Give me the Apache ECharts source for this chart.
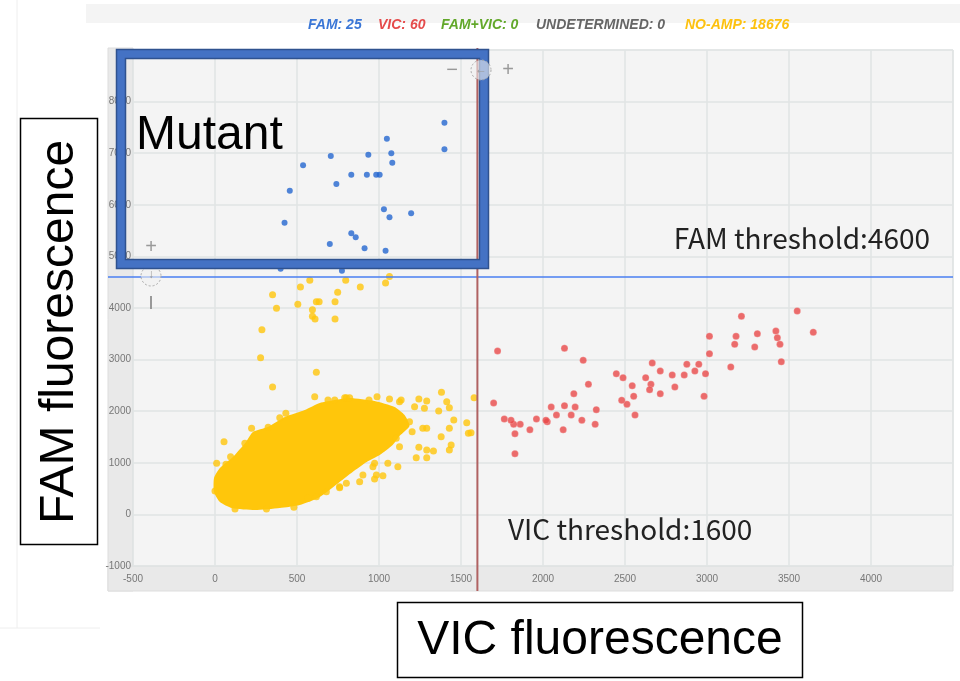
<!DOCTYPE html>
<html>
<head>
<meta charset="utf-8">
<title>FAM / VIC scatter</title>
<script src="https://cdn.jsdelivr.net/npm/echarts@6/dist/echarts.min.js"></script>
<style>
  html, body { margin: 0; padding: 0; background: #fff; }
  #main { width: 960px; height: 681px; }
</style>
</head>
<body>
<div id="main"></div>
<script>
  // thresholds
  var vicThreshold = 1600;
  var famThreshold = 4600;

  // FAM (mutant) droplets [VIC, FAM]
  var famPoints = [
    [1399, 7591], [1399, 7075], [1048, 7281], [1075, 6998], [1081, 6816],
    [935, 6971], [706, 6946], [537, 6765], [456, 6273], [831, 6583],
    [926, 6583], [983, 6583], [1004, 6583], [740, 6403], [424, 5653],
    [1030, 5913], [1064, 5758], [1196, 5835], [831, 5448], [858, 5370],
    [700, 5240], [912, 5157], [1040, 5110], [400, 4762], [774, 4723]
  ];

  // VIC droplets
  var vicPoints = [
    [3550, 3942], [3648, 3529], [3210, 3839], [3420, 3554], [3429, 3424],
    [3445, 3296], [3453, 2959], [3307, 3502], [3291, 3244], [3177, 3451],
    [3169, 3296], [3145, 2857], [3015, 3451], [3015, 3114], [2991, 2727],
    [2982, 2289], [2950, 2909], [2926, 2779], [2877, 2909], [2861, 2702],
    [2804, 2469], [2788, 2702], [2715, 2779], [2715, 2340], [2666, 2934],
    [2658, 2521], [2650, 2417], [2626, 2650], [2544, 2494], [2553, 2289],
    [2561, 1926], [2512, 2134], [2480, 2211], [2488, 2650], [2447, 2727],
    [2325, 2030], [2318, 1746], [2277, 2521], [2245, 2986], [2237, 1824],
    [2196, 2081], [2188, 2340], [2172, 1926], [2131, 3219], [2131, 2107],
    [2123, 1642], [2082, 1926], [2050, 2081], [2026, 1797], [2018, 1824],
    [1960, 1849], [1920, 1642], [1861, 1746], [1829, 1564], [1829, 1176],
    [1821, 1746], [1805, 1824], [1764, 1849], [1723, 3167], [1699, 2159]
  ];

  // NO-AMP: outline of the dense core (solid area in the picture)
  var noAmpCore = [
    [-6, 705], [30, 899], [109, 1112], [189, 1403], [231, 1597], [322, 1694],
    [426, 1888], [547, 2023], [639, 2159], [730, 2217], [821, 2256], [973, 2198],
    [1095, 2081], [1156, 1926], [1186, 1713], [1125, 1519], [1083, 1345],
    [1004, 1151], [925, 1016], [839, 822], [760, 628], [639, 337], [517, 182],
    [395, 124], [243, 85], [103, 124], [30, 240], [-6, 434]
  ];

  // NO-AMP: single droplets outside the core
  var noAmpPoints = [
    [578, 4537], [797, 4537], [1064, 4610], [1040, 4484], [521, 4407],
    [886, 4407], [351, 4258], [748, 4304], [618, 4122], [635, 4122],
    [732, 4122], [505, 4072], [375, 3994], [594, 3967], [594, 3839],
    [610, 3787], [732, 3787], [286, 3580], [278, 3037], [618, 2754],
    [351, 2470],
    [608, 2281], [689, 2217], [730, 2217], [791, 2262], [395, 1874],
    [432, 1959], [223, 1668], [324, 1688], [55, 1409], [182, 1378],
    [95, 1118], [10, 990], [67, 971], [0, 453], [122, 105], [314, 105],
    [481, 138], [568, 312], [618, 343], [679, 440], [760, 517], [801, 603],
    [801, 2262], [821, 2262], [939, 2217], [988, 2281], [1064, 2236],
    [1125, 2184], [1135, 2217], [1243, 2236], [1291, 2198], [1217, 2087],
    [1277, 2056], [1364, 2004], [1381, 2366], [1413, 2184], [1429, 2068],
    [1456, 1829], [1535, 1777], [1580, 2262], [1429, 1668], [1545, 1572],
    [1561, 1584], [1267, 1668], [1291, 1668], [1186, 1797], [1202, 1603],
    [1379, 1506], [1440, 1345], [1429, 1248], [1243, 1300], [1291, 1248],
    [1332, 1229], [1227, 1099], [1291, 1099], [1105, 1475], [1125, 1312],
    [1054, 990], [1115, 924], [973, 990], [963, 924], [984, 764],
    [1024, 750], [973, 686], [902, 764], [882, 634], [760, 537]
  ];

  var legendItems = [
    { text: 'FAM: 25', color: '#3a76d6', x: 308 },
    { text: 'VIC: 60', color: '#e54b4b', x: 378 },
    { text: 'FAM+VIC: 0', color: '#62a82a', x: 441 },
    { text: 'UNDETERMINED: 0', color: '#666666', x: 536 },
    { text: 'NO-AMP: 18676', color: '#fdc10f', x: 685 }
  ];

  var chart = echarts.init(document.getElementById('main'));

  var graphics = [
    // page decoration
    { type: 'rect', z: -5, shape: { x: 86, y: 4, width: 874, height: 19 }, style: { fill: '#f4f4f4' } },
    { type: 'line', z: -5, shape: { x1: 17, y1: 0, x2: 17, y2: 628 }, style: { stroke: '#eeeeee', lineWidth: 1 } },
    { type: 'line', z: -5, shape: { x1: 0, y1: 628, x2: 100, y2: 628 }, style: { stroke: '#eeeeee', lineWidth: 1 } },
    // axis bands
    { type: 'rect', z: -2, shape: { x: 108, y: 48, width: 25, height: 543 }, style: { fill: '#e9e9e9', stroke: '#dddddd', lineWidth: 1 } },
    { type: 'rect', z: -2, shape: { x: 108, y: 566, width: 845, height: 25 }, style: { fill: '#e9e9e9', stroke: '#dddddd', lineWidth: 1 } },
    // threshold labels
    { type: 'text', z: 60, style: { text: 'FAM threshold:4600', x: 930, y: 252, align: 'right', verticalAlign: 'bottom', fontSize: 28, fontFamily: 'Noto Sans CJK JP', fill: '#222' } },
    { type: 'text', z: 60, style: { text: 'VIC threshold:1600', x: 508, y: 543, align: 'left', verticalAlign: 'bottom', fontSize: 28, fontFamily: 'Noto Sans CJK JP', fill: '#222' } },
    // Mutant box
    { type: 'rect', z: 100, shape: { x: 121, y: 54, width: 363, height: 210 }, style: { fill: 'rgba(0,0,0,0)', stroke: '#4472c4', lineWidth: 9 } },
    { type: 'rect', z: 101, shape: { x: 116.5, y: 49.5, width: 372, height: 219 }, style: { fill: 'rgba(0,0,0,0)', stroke: '#2f528f', lineWidth: 1.5 } },
    { type: 'rect', z: 101, shape: { x: 125.5, y: 58.5, width: 354, height: 201 }, style: { fill: 'rgba(0,0,0,0)', stroke: '#2f528f', lineWidth: 1.5 } },
    { type: 'text', z: 102, style: { text: 'Mutant', x: 136, y: 112, verticalAlign: 'alphabetic', fontSize: 48, fontFamily: 'Liberation Sans', fill: '#000' } },
    // zoom controls
    { type: 'text', z: 110, style: { text: '\u2212', x: 452, y: 70, fontSize: 20, fill: '#999', align: 'center', verticalAlign: 'middle' } },
    { type: 'circle', z: 110, shape: { cx: 481, cy: 70, r: 10 }, style: { fill: 'rgba(240,240,240,0.6)', stroke: '#aaa', lineWidth: 1, lineDash: [2, 2] } },
    { type: 'text', z: 111, style: { text: '\u2190', x: 481, y: 70, fontSize: 12, fill: '#999', align: 'center', verticalAlign: 'middle' } },
    { type: 'text', z: 110, style: { text: '+', x: 508, y: 70, fontSize: 20, fill: '#999', align: 'center', verticalAlign: 'middle' } },
    { type: 'text', z: 110, style: { text: '+', x: 151, y: 247, fontSize: 20, fill: '#999', align: 'center', verticalAlign: 'middle' } },
    { type: 'circle', z: 99, shape: { cx: 151, cy: 276, r: 10 }, style: { fill: 'rgba(240,240,240,0.6)', stroke: '#aaa', lineWidth: 1, lineDash: [2, 2] } },
    { type: 'text', z: 99, style: { text: '\u2193', x: 151, y: 275, fontSize: 12, fill: '#999', align: 'center', verticalAlign: 'middle' } },
    { type: 'line', z: 99, shape: { x1: 151, y1: 296, x2: 151, y2: 309 }, style: { stroke: '#999', lineWidth: 2 } },
    // axis title boxes
    { type: 'rect', z: 90, shape: { x: 20.5, y: 118.5, width: 77, height: 426 }, style: { fill: '#fff', stroke: '#000', lineWidth: 1.5 } },
    { type: 'text', z: 91, x: 60, y: 332, rotation: Math.PI / 2, style: { text: 'FAM fluorescence', x: 0, y: 0, align: 'center', verticalAlign: 'middle', fontSize: 48, fontFamily: 'Liberation Sans', fill: '#000' } },
    { type: 'rect', z: 90, shape: { x: 397.5, y: 602.5, width: 405, height: 75 }, style: { fill: '#fff', stroke: '#000', lineWidth: 1.5 } },
    { type: 'text', z: 91, style: { text: 'VIC fluorescence', x: 600, y: 641, align: 'center', verticalAlign: 'middle', fontSize: 48, fontFamily: 'Liberation Sans', fill: '#000' } }
  ];

  legendItems.forEach(function (it) {
    graphics.push({
      type: 'text', z: 10,
      style: { text: it.text, x: it.x, y: 25, verticalAlign: 'middle', fontSize: 14, fontWeight: 'bold', fontStyle: 'italic', fontFamily: 'Liberation Sans', fill: it.color }
    });
  });

  var option = {
    animation: false,
    backgroundColor: '#ffffff',
    grid: {
      left: 133, top: 50, width: 820, height: 516,
      show: true, backgroundColor: '#f4f4f4', borderColor: '#dddddd', borderWidth: 1
    },
    xAxis: {
      type: 'value', min: -500, max: 4500, interval: 500,
      axisLine: { show: false }, axisTick: { show: false },
      splitLine: { lineStyle: { color: '#e0e4e4', width: 1.5 } },
      axisLabel: {
        color: '#777', fontSize: 10, margin: 8,
        fontFamily: 'Liberation Sans Narrow, Liberation Sans, sans-serif',
        formatter: function (v) { return v === 4500 ? '' : v; }
      }
    },
    yAxis: {
      type: 'value', min: -1000, max: 9000, interval: 1000,
      axisLine: { show: false }, axisTick: { show: false },
      splitLine: { lineStyle: { color: '#e0e4e4', width: 1.5 } },
      axisLabel: {
        color: '#777', fontSize: 10, margin: 2,
        fontFamily: 'Liberation Sans Narrow, Liberation Sans, sans-serif',
        formatter: function (v) { return v === 9000 ? '' : v; }
      }
    },
    graphic: graphics,
    series: [
      {
        name: 'NO-AMP core',
        type: 'custom',
        data: noAmpCore,
        z: 2,
        renderItem: function (params, api) {
          if (params.dataIndex !== 0) return null;
          var pts = noAmpCore.map(function (p) { return api.coord(p); });
          return { type: 'polygon', shape: { points: pts, smooth: 0.2 }, style: { fill: '#ffc60b' } };
        }
      },
      {
        name: 'NO-AMP',
        type: 'scatter',
        data: noAmpPoints,
        symbolSize: 7,
        itemStyle: { color: '#ffc60b' },
        z: 2
      },
      {
        name: 'VIC',
        type: 'scatter',
        data: vicPoints,
        symbolSize: 7,
        itemStyle: { color: '#e84848', borderColor: 'rgba(255,255,255,0.5)', borderWidth: 0.5 },
        z: 3
      },
      {
        name: 'FAM',
        type: 'scatter',
        data: famPoints,
        symbolSize: 6,
        itemStyle: { color: '#2466d0' },
        z: 3
      },
      {
        name: 'thresholds',
        type: 'custom',
        data: [[vicThreshold, famThreshold]],
        clip: false,
        z: 4,
        renderItem: function (params, api) {
          var cs = params.coordSys;
          var p = api.coord([api.value(0), api.value(1)]);
          return {
            type: 'group',
            children: [
              { type: 'line', shape: { x1: cs.x - 25, y1: p[1], x2: cs.x + cs.width, y2: p[1] }, style: { stroke: '#4a7ff2', lineWidth: 1.5 } },
              { type: 'line', shape: { x1: p[0], y1: cs.y - 2, x2: p[0], y2: cs.y + cs.height + 25 }, style: { stroke: '#b06262', lineWidth: 2 } }
            ]
          };
        }
      }
    ]
  };

  chart.setOption(option);
</script>
</body>
</html>
